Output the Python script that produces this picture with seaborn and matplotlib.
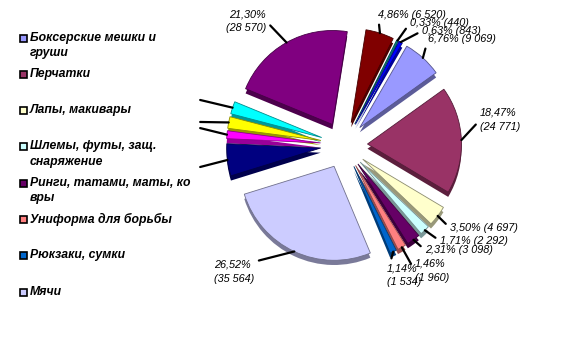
import numpy as np
import matplotlib
matplotlib.use("Agg")
import matplotlib.pyplot as plt
import matplotlib.colors as mcolors
from matplotlib.patches import Rectangle
import seaborn as sns

# ---------------- data ----------------
legend_labels = [
    "Боксерские мешки и\nгруши",
    "Перчатки",
    "Лапы, макивары",
    "Шлемы, футы, защ.\nснаряжение",
    "Ринги, татами, маты, ко\nвры",
    "Униформа для борьбы",
    "Рюкзаки, сумки",
    "Мячи",
]
# slice values, clockwise starting with "Боксерские мешки и груши"
values = [9069, 24771, 4697, 2292, 3098, 1960, 1534, 35564,
          7400, 1810, 2680, 2870, 28570, 6520, 440, 843]
slice_colors = ["#9999FF", "#993366", "#FFFFCC", "#CCFFFF", "#660066", "#FF8080",
                "#0066CC", "#CCCCFF", "#000080", "#FF00FF", "#FFFF00", "#00FFFF",
                "#800080", "#800000", "#008080", "#0000FF"]

# label layout: index -> (text x, text y, ha, two lines?)
label_layout = {
    0: (0.894, 1.128, "left", False),
    1: (1.447, 0.266, "left", True),
    2: (1.128, -0.883, "left", False),
    3: (1.020, -1.020, "left", False),
    4: (0.862, -1.117, "left", False),
    5: (0.755, -1.340, "left", True),
    6: (0.457, -1.383, "left", True),
    7: (-1.383, -1.351, "left", True),
    12: (-0.830, 1.319, "right", True),
    13: (0.362, 1.383, "left", False),
    14: (0.702, 1.298, "left", False),
    15: (0.830, 1.213, "left", False),
}
leader_only = {8: (-1.53, -0.234), 9: (-1.53, 0.18), 10: (-1.53, 0.245), 11: (-1.53, 0.479)}

# ---------------- style ----------------
sns.set_theme(style="white")
plt.rcParams["font.family"] = ["Liberation Sans", "DejaVu Sans"]
palette = sns.color_palette(slice_colors)


def darken(c, f):
    r, g, b = mcolors.to_rgb(c)
    return (r * f, g * f, b * f)


W, H = 561, 339
fig = plt.figure(figsize=(W / 100, H / 100), dpi=100)
fig.patch.set_facecolor("white")

cx_px, cy_px, unit = 344, 145, 94
lim = 1.6
ax = fig.add_axes([(cx_px - lim * unit) / W, (H - cy_px - lim * unit) / H,
                   2 * lim * unit / W, 2 * lim * unit / H])

explode = [0.25] * len(values)
# side / thickness layer
ax.pie(values, colors=[darken(c, 0.6) for c in palette], startangle=60,
       counterclock=False, explode=explode, center=(0, -0.05),
       wedgeprops=dict(linewidth=0))
wedges, _ = ax.pie(values, colors=palette, startangle=60, counterclock=False,
                   explode=explode, wedgeprops=dict(linewidth=0.6))
for w, c in zip(wedges, palette):
    w.set_edgecolor(darken(c, 0.55))

ax.set_xlim(-lim, lim)
ax.set_ylim(-lim, lim)
ax.set_aspect("auto")
ax.axis("off")

total = float(sum(values))


def anchor(w):
    ang = np.deg2rad((w.theta1 + w.theta2) / 2)
    cx, cy = w.center
    return cx + w.r * np.cos(ang), cy + w.r * np.sin(ang)


lab_font = dict(fontsize=7.8, style="italic", color="black")
for i, (tx, ty, ha, two) in label_layout.items():
    v = values[i]
    pct = f"{v / total * 100:.2f}".replace(".", ",") + "%"
    cnt = f"{v:,}".replace(",", " ")
    txt = f"{pct}\n({cnt})" if two else f"{pct} ({cnt})"
    ax.annotate(txt, xy=anchor(wedges[i]), xytext=(tx, ty), ha=ha, va="center",
                annotation_clip=False, linespacing=1.5,
                arrowprops=dict(arrowstyle="-", color="black", lw=1.6,
                                shrinkA=1, shrinkB=0,
                                relpos=(0 if ha == "left" else 1, 0.5)),
                **lab_font)

for i, (ex, ey) in leader_only.items():
    ax.annotate("", xy=anchor(wedges[i]), xytext=(ex, ey), annotation_clip=False,
                arrowprops=dict(arrowstyle="-", color="black", lw=1.6,
                                shrinkA=0, shrinkB=0))

# ---------------- legend ----------------
leg_top, leg_step = 38, 36.3
for i, lab in enumerate(legend_labels):
    y = leg_top + i * leg_step
    fig.add_artist(Rectangle((20 / W, 1 - (y + 3.5) / H), 7 / W, 7 / H,
                             transform=fig.transFigure, facecolor=palette[i],
                             edgecolor="black", lw=1.2))
    fig.text(30 / W, 1 - (y - 6.5) / H, lab, ha="left", va="top",
             fontsize=8.8, fontweight="bold", style="italic", color="black",
             linespacing=1.35)

fig.savefig("out.png", dpi=100, facecolor="white")
